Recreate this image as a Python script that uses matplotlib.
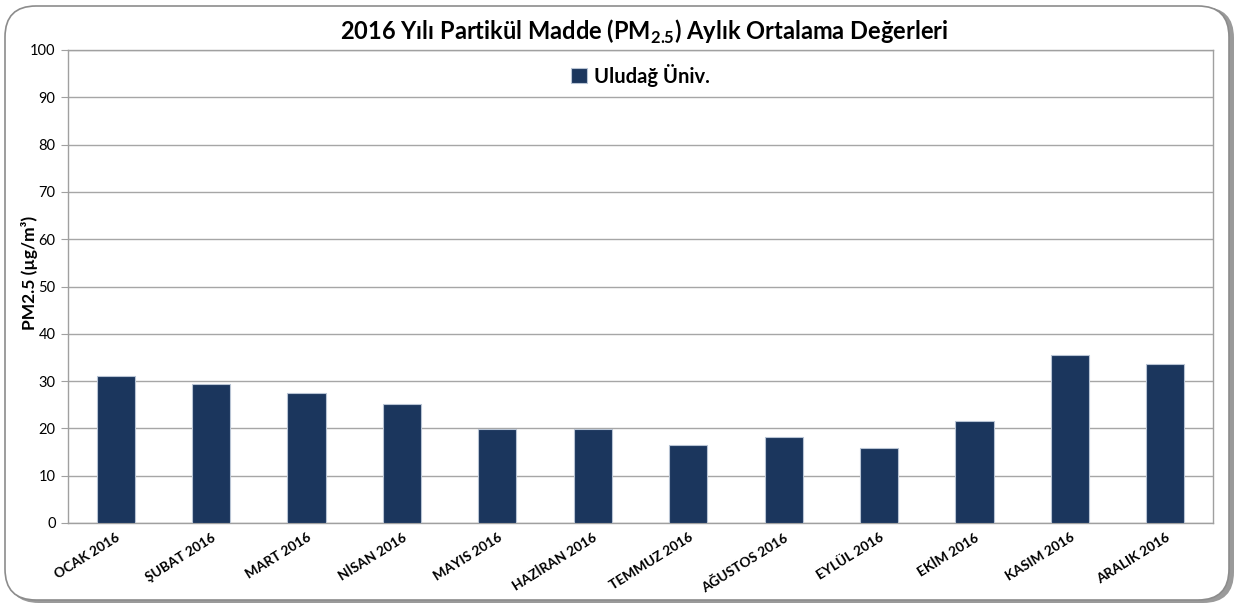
import matplotlib
matplotlib.use("Agg")
import matplotlib.pyplot as plt
from matplotlib.patches import FancyBboxPatch

plt.rcParams['font.family'] = ['Lato', 'DejaVu Sans']
plt.rcParams['mathtext.fontset'] = 'custom'
plt.rcParams['mathtext.rm'] = 'Lato:bold'
plt.rcParams['mathtext.bf'] = 'Lato:bold'

months = ["OCAK 2016", "ŞUBAT 2016", "MART 2016", "NİSAN 2016", "MAYIS 2016",
          "HAZİRAN 2016", "TEMMUZ 2016", "AĞUSTOS 2016", "EYLÜL 2016",
          "EKİM 2016", "KASIM 2016", "ARALIK 2016"]
pm25 = [31.0, 29.3, 27.4, 25.2, 19.9, 19.8, 16.5, 18.1, 15.9, 21.6, 35.5, 33.7]
series_name = "Uludağ Üniv."
yticks = list(range(0, 101, 10))

W, H = 1238, 606
fig = plt.figure(figsize=(W / 100, H / 100), dpi=100)

# rounded frame with shadow
shadow = FancyBboxPatch((8 / W, 3 / H), 1226 / W, 596 / H,
                        boxstyle="round,pad=0,rounding_size=0.025",
                        transform=fig.transFigure, facecolor="#9a9a9a",
                        edgecolor="none", zorder=0, mutation_aspect=W / H)
fig.patches.append(shadow)
frame = FancyBboxPatch((5 / W, 6 / H), 1224 / W, 594 / H,
                       boxstyle="round,pad=0,rounding_size=0.025",
                       transform=fig.transFigure, facecolor="white",
                       edgecolor="#8c8c8c", linewidth=1.2, zorder=1,
                       mutation_aspect=W / H)
fig.patches.append(frame)

ax = fig.add_axes([68 / W, 1 - 523 / H, (1213 - 68) / W, (523 - 50) / H])
ax.set_zorder(2)
ax.patch.set_alpha(0)

x = range(len(months))
ax.bar(x, pm25, width=0.4, color="#1b365d", edgecolor="#b8c4d4",
       linewidth=0.8, zorder=3, label=series_name)

ax.set_xlim(-0.5, len(months) - 0.5)
ax.set_ylim(0, 100)
ax.set_yticks(yticks)
ax.set_yticklabels([str(v) for v in yticks], fontsize=10.5)
ax.yaxis.grid(True, color="#a6a6a6", linewidth=1.0, zorder=0)
ax.set_axisbelow(True)
for s in ax.spines.values():
    s.set_color("#a0a0a0")
    s.set_linewidth(1.0)
ax.tick_params(axis='y', length=5, color="#a0a0a0", pad=4)
ax.tick_params(axis='x', length=0, pad=6)
ax.set_xticks(list(x))
ax.set_xticklabels(months, rotation=32, ha='right', rotation_mode='anchor',
                   fontsize=9.8, fontweight='bold')
ax.set_ylabel("PM2.5 (µg/m³)", fontsize=12.5, fontweight='bold', va='center')
ax.yaxis.set_label_coords(-0.0332, 0.528)

fig.text(0.5 * (343 + 945) / W, 1 - 32 / H,
         "2016 Yılı Partikül Madde (PM$_{2.5}$) Aylık Ortalama Değerleri",
         ha='center', va='center', fontsize=17, fontweight='bold')

ax.legend(loc='center', bbox_to_anchor=(0.5, 0.947), frameon=False,
          prop={'size': 14.5, 'weight': 'bold'}, handlelength=0.75,
          handleheight=0.75, handletextpad=0.35, borderpad=0)

fig.savefig("out.png", dpi=100)
